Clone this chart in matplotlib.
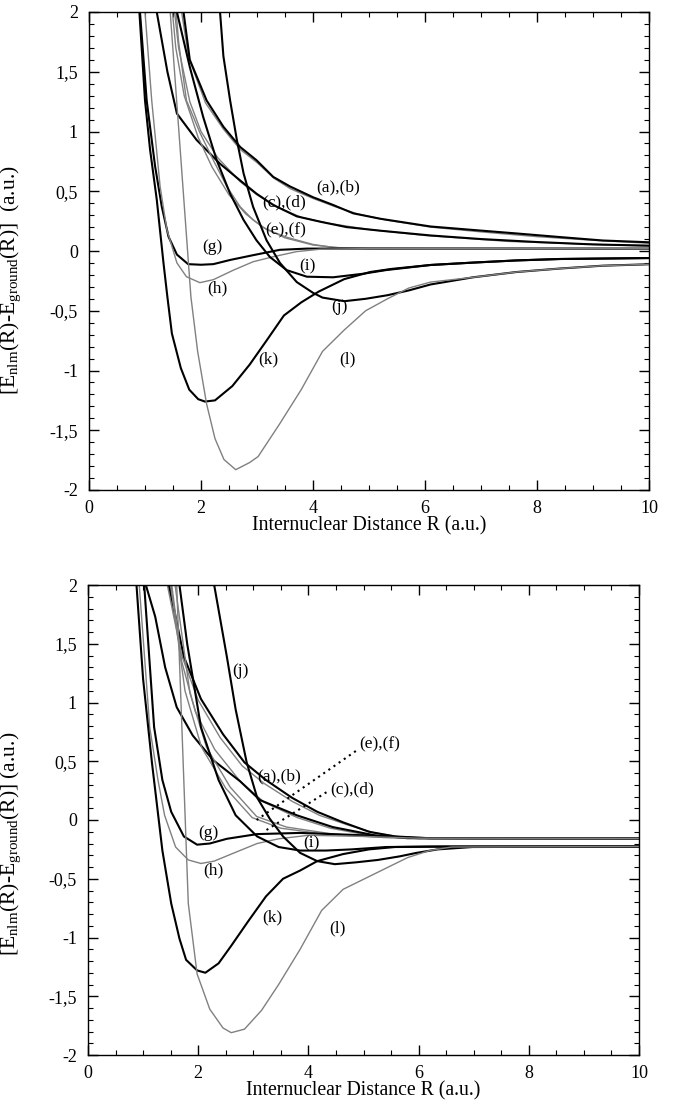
import matplotlib
matplotlib.use('Agg')
import matplotlib.pyplot as plt
from matplotlib.ticker import MultipleLocator, FuncFormatter

plt.rcParams['font.family'] = ['Liberation Serif', 'DejaVu Serif']
plt.rcParams['mathtext.fontset'] = 'custom'
plt.rcParams['mathtext.rm'] = 'Liberation Serif'
plt.rcParams['mathtext.it'] = 'Liberation Serif:italic'

# ---------------- top panel data ----------------
top_a_r = [1.66, 1.80, 2.10, 2.40, 2.70, 2.99, 3.29, 3.59, 4.00, 4.36, 4.72, 5.20, 6.10, 6.86, 7.63, 8.40, 9.17, 10.0]
top_a_e = [2.10, 1.60, 1.26, 1.04, 0.87, 0.76, 0.62, 0.54, 0.45, 0.385, 0.315, 0.27, 0.205, 0.176, 0.147, 0.117, 0.088, 0.073]
top_b_r = [1.62, 1.78, 2.08, 2.40, 2.70, 3.00, 3.30, 3.60, 4.00, 4.40, 4.80, 5.30, 6.10, 7.00, 8.00, 9.00, 10.0]
top_b_e = [2.10, 1.62, 1.24, 1.02, 0.85, 0.74, 0.61, 0.52, 0.44, 0.37, 0.31, 0.26, 0.20, 0.16, 0.12, 0.09, 0.065]
top_c_r = [1.15, 1.21, 1.40, 1.57, 1.92, 2.34, 2.70, 2.99, 3.29, 3.71, 4.13, 4.60, 5.20, 6.10, 7.00, 8.00, 9.00, 10.0]
top_c_e = [2.20, 2.00, 1.50, 1.15, 0.93, 0.73, 0.59, 0.48, 0.385, 0.29, 0.245, 0.20, 0.17, 0.13, 0.10, 0.075, 0.055, 0.045]
top_d_r = [1.48, 1.60, 1.80, 2.00, 2.30, 2.70, 3.00, 3.40, 3.80, 4.30, 5.00, 6.00, 7.50, 10.0]
top_d_e = [2.20, 1.70, 1.25, 1.00, 0.78, 0.58, 0.47, 0.36, 0.28, 0.23, 0.18, 0.13, 0.08, 0.04]
top_e_r = [1.52, 1.60, 1.74, 1.98, 2.22, 2.46, 2.70, 2.93, 3.17, 3.53, 4.00, 4.36, 5.00, 10.0]
top_e_e = [2.20, 1.75, 1.26, 0.99, 0.76, 0.54, 0.37, 0.26, 0.18, 0.115, 0.055, 0.03, 0.02, 0.02]
top_f_r = [1.45, 1.55, 1.70, 1.95, 2.20, 2.50, 2.80, 3.10, 3.50, 4.00, 4.50, 10.0]
top_f_e = [2.20, 1.70, 1.30, 0.95, 0.70, 0.47, 0.31, 0.20, 0.11, 0.05, 0.025, 0.02]
top_g_r = [0.88, 0.91, 1.03, 1.18, 1.30, 1.42, 1.57, 1.77, 2.00, 2.22, 2.52, 2.93, 3.41, 3.89, 4.50, 10.0]
top_g_e = [2.20, 2.00, 1.26, 0.71, 0.37, 0.12, -0.03, -0.11, -0.115, -0.11, -0.075, -0.035, 0.01, 0.02, 0.02, 0.02]
top_h_r = [0.97, 1.00, 1.12, 1.27, 1.39, 1.57, 1.74, 1.98, 2.22, 2.58, 2.93, 3.29, 3.71, 4.13, 5.00, 10.0]
top_h_e = [2.20, 2.00, 1.26, 0.54, 0.18, -0.10, -0.215, -0.265, -0.24, -0.16, -0.09, -0.048, -0.005, 0.015, 0.02, 0.02]
top_i_r = [1.52, 1.57, 1.80, 2.04, 2.28, 2.52, 2.76, 2.99, 3.23, 3.53, 3.89, 4.36, 4.90, 5.30, 6.10, 6.86, 7.63, 8.40, 10.0]
top_i_e = [2.20, 2.00, 1.54, 1.12, 0.76, 0.48, 0.26, 0.09, -0.05, -0.16, -0.215, -0.22, -0.19, -0.16, -0.117, -0.097, -0.079, -0.067, -0.059]
top_j_r = [2.32, 2.34, 2.40, 2.52, 2.64, 2.76, 2.93, 3.17, 3.41, 3.71, 4.00, 4.17, 4.56, 4.94, 5.33, 5.71, 6.10, 6.86, 7.63, 8.40, 9.17, 10.0]
top_j_e = [2.20, 2.00, 1.63, 1.26, 0.93, 0.65, 0.37, 0.09, -0.10, -0.26, -0.35, -0.39, -0.42, -0.40, -0.37, -0.33, -0.28, -0.22, -0.176, -0.147, -0.123, -0.111]
top_k_r = [0.86, 0.90, 1.00, 1.09, 1.21, 1.33, 1.40, 1.48, 1.64, 1.79, 1.95, 2.07, 2.25, 2.56, 2.87, 3.17, 3.48, 3.79, 4.10, 4.56, 5.02, 5.40, 6.10, 6.86, 7.63, 8.40, 10.0]
top_k_e = [2.20, 2.00, 1.26, 0.85, 0.43, -0.10, -0.385, -0.69, -0.98, -1.16, -1.24, -1.26, -1.25, -1.13, -0.95, -0.75, -0.54, -0.43, -0.34, -0.235, -0.176, -0.15, -0.117, -0.097, -0.079, -0.067, -0.059]
top_l_r = [1.44, 1.45, 1.82, 1.94, 2.10, 2.25, 2.41, 2.62, 2.87, 3.02, 3.40, 3.79, 4.17, 4.56, 4.94, 5.33, 5.71, 6.10, 6.86, 7.63, 8.40, 9.17, 10.0]
top_l_e = [2.20, 2.00, -0.385, -0.84, -1.28, -1.57, -1.745, -1.83, -1.77, -1.72, -1.45, -1.16, -0.84, -0.66, -0.50, -0.40, -0.31, -0.26, -0.22, -0.176, -0.147, -0.123, -0.111]

top_labels = ['(a),(b)', '(c),(d)', '(e),(f)', '(g)', '(h)', '(i)', '(j)', '(k)', '(l)']
top_label_r = [4.44, 3.48, 3.52, 2.21, 2.29, 3.90, 4.48, 3.21, 4.62]
top_label_e = [0.53, 0.41, 0.17, 0.03, -0.31, -0.13, -0.47, -0.91, -0.91]

# ---------------- bottom panel data ----------------
bot_a_r = [1.40, 1.47, 1.74, 2.05, 2.45, 2.84, 3.23, 3.70, 4.16, 4.63, 5.10, 5.57, 6.20, 7.00, 10.0]
bot_a_e = [2.20, 2.00, 1.39, 1.03, 0.73, 0.49, 0.34, 0.19, 0.07, -0.02, -0.10, -0.14, -0.155, -0.156, -0.156]
bot_b_r = [1.36, 1.44, 1.70, 2.00, 2.40, 2.80, 3.20, 3.70, 4.20, 4.70, 5.20, 5.70, 6.50, 10.0]
bot_b_e = [2.20, 2.00, 1.40, 1.02, 0.70, 0.46, 0.31, 0.16, 0.04, -0.04, -0.11, -0.145, -0.156, -0.156]
bot_c_r = [0.98, 1.05, 1.22, 1.40, 1.61, 1.90, 2.27, 2.76, 3.12, 3.79, 4.44, 5.20, 5.80, 10.0]
bot_c_e = [2.20, 2.00, 1.73, 1.30, 0.96, 0.72, 0.51, 0.33, 0.17, 0.04, -0.06, -0.13, -0.155, -0.156]
bot_d_r = [1.45, 1.52, 1.70, 1.95, 2.30, 2.76, 3.20, 3.80, 4.40, 5.10, 5.80, 10.0]
bot_d_e = [2.20, 2.00, 1.35, 0.92, 0.60, 0.33, 0.15, 0.02, -0.07, -0.13, -0.155, -0.156]
bot_e_r = [1.52, 1.58, 1.85, 2.15, 2.58, 3.06, 3.60, 4.45, 5.50, 10.0]
bot_e_e = [2.20, 2.00, 1.08, 0.62, 0.28, 0.03, -0.06, -0.12, -0.15, -0.156]
bot_f_r = [1.45, 1.50, 1.76, 2.06, 2.50, 2.98, 3.50, 4.30, 5.40, 10.0]
bot_f_e = [2.20, 2.00, 1.10, 0.62, 0.27, 0.02, -0.07, -0.12, -0.15, -0.156]
bot_g_r = [0.98, 1.02, 1.20, 1.35, 1.51, 1.74, 1.98, 2.21, 2.52, 3.07, 3.85, 5.00, 6.00, 10.0]
bot_g_e = [2.20, 2.00, 0.79, 0.34, 0.07, -0.14, -0.21, -0.20, -0.16, -0.12, -0.11, -0.13, -0.155, -0.156]
bot_h_r = [0.90, 0.93, 1.12, 1.27, 1.39, 1.59, 1.82, 2.05, 2.29, 2.60, 3.07, 3.46, 4.00, 5.00, 6.00, 10.0]
bot_h_e = [2.20, 2.00, 0.79, 0.34, 0.04, -0.23, -0.34, -0.37, -0.35, -0.29, -0.20, -0.16, -0.13, -0.14, -0.155, -0.156]
bot_i_r = [1.62, 1.66, 1.80, 2.05, 2.37, 2.68, 3.07, 3.46, 3.85, 4.32, 4.79, 5.41, 6.20, 10.0]
bot_i_e = [2.20, 2.00, 1.50, 0.79, 0.34, 0.04, -0.14, -0.23, -0.26, -0.26, -0.25, -0.23, -0.226, -0.226]
bot_j_r = [2.27, 2.29, 2.52, 2.68, 2.88, 3.07, 3.30, 3.54, 3.85, 4.16, 4.48, 4.87, 5.26, 5.65, 5.96, 6.35, 6.98, 10.0]
bot_j_e = [2.20, 2.00, 1.39, 0.94, 0.49, 0.19, 0.01, -0.14, -0.28, -0.35, -0.376, -0.36, -0.34, -0.31, -0.28, -0.25, -0.23, -0.226]
bot_k_r = [0.86, 0.88, 1.00, 1.16, 1.35, 1.51, 1.66, 1.78, 1.98, 2.13, 2.37, 2.60, 2.91, 3.23, 3.54, 3.85, 4.16, 4.63, 5.10, 5.57, 6.50, 10.0]
bot_k_e = [2.20, 2.00, 1.20, 0.49, -0.26, -0.71, -1.01, -1.19, -1.28, -1.30, -1.22, -1.07, -0.86, -0.65, -0.50, -0.43, -0.35, -0.29, -0.25, -0.23, -0.226, -0.226]
bot_l_r = [1.59, 1.61, 1.82, 1.98, 2.21, 2.45, 2.60, 2.84, 3.15, 3.46, 3.85, 4.24, 4.63, 5.02, 5.41, 5.80, 6.20, 6.60, 10.0]
bot_l_e = [2.20, 2.00, -0.71, -1.31, -1.61, -1.77, -1.81, -1.78, -1.62, -1.40, -1.10, -0.77, -0.59, -0.50, -0.41, -0.32, -0.26, -0.23, -0.226]

# dotted leader lines of the bottom panel
bot_lead_ef_r = [3.06, 4.90]
bot_lead_ef_e = [0.00, 0.60]
bot_lead_cd_r = [3.24, 4.39]
bot_lead_cd_e = [-0.085, 0.255]

bot_labels = ['(j)', '(a),(b)', '(c),(d)', '(e),(f)', '(g)', '(i)', '(h)', '(k)', '(l)']
bot_label_r = [2.76, 3.46, 4.79, 5.30, 2.19, 4.06, 2.27, 3.34, 4.52]
bot_label_e = [1.27, 0.37, 0.26, 0.64, -0.11, -0.20, -0.43, -0.83, -0.92]

THICK = dict(color='black', lw=1.5)
THIN = dict(color='#808080', lw=1.0)


def comma_fmt(v, pos):
    s = ('%g' % v).replace('.', ',')
    return s


def style_axes(ax):
    ax.set_xlim(0, 10)
    ax.set_ylim(-2, 2)
    ax.xaxis.set_major_locator(MultipleLocator(2))
    ax.xaxis.set_minor_locator(MultipleLocator(0.5))
    ax.yaxis.set_major_locator(MultipleLocator(0.5))
    ax.yaxis.set_minor_locator(MultipleLocator(0.1))
    ax.yaxis.set_major_formatter(FuncFormatter(comma_fmt))
    ax.tick_params(which='both', direction='in', top=True, right=True, labelsize=13)
    ax.tick_params(which='major', length=7, width=1)
    ax.tick_params(which='minor', length=3.5, width=0.8)
    ax.tick_params(axis='x', pad=7)
    ax.tick_params(axis='y', pad=8)
    for sp in ax.spines.values():
        sp.set_linewidth(1.0)
    ax.set_xlabel('Internuclear Distance R (a.u.)', fontsize=14.2, labelpad=0)


def draw_panel(ax, curves, labels, lab_r, lab_e):
    for r, e, st in curves:
        ax.plot(r, e, **st)
    for t, x, y in zip(labels, lab_r, lab_e):
        ax.text(x, y, t, ha='center', va='center', fontsize=12.5)


fig = plt.figure(figsize=(6.74, 11.04), dpi=100)
ax1 = fig.add_axes([89 / 674, 1 - 490 / 1104, 560 / 674, 478 / 1104])
ax2 = fig.add_axes([88 / 674, 1 - 1055 / 1104, 551 / 674, 470 / 1104])

top_curves = [
    (top_b_r, top_b_e, THIN), (top_a_r, top_a_e, THICK),
    (top_d_r, top_d_e, THIN), (top_c_r, top_c_e, THICK),
    (top_e_r, top_e_e, THIN), (top_f_r, top_f_e, THIN),
    (top_g_r, top_g_e, THICK), (top_h_r, top_h_e, THIN),
    (top_i_r, top_i_e, THICK), (top_j_r, top_j_e, THICK),
    (top_k_r, top_k_e, THICK), (top_l_r, top_l_e, THIN),
]
draw_panel(ax1, top_curves, top_labels, top_label_r, top_label_e)

bot_curves = [
    (bot_b_r, bot_b_e, THIN), (bot_a_r, bot_a_e, THICK),
    (bot_d_r, bot_d_e, THIN), (bot_c_r, bot_c_e, THICK),
    (bot_e_r, bot_e_e, THIN), (bot_f_r, bot_f_e, THIN),
    (bot_g_r, bot_g_e, THICK), (bot_h_r, bot_h_e, THIN),
    (bot_i_r, bot_i_e, THICK), (bot_j_r, bot_j_e, THICK),
    (bot_k_r, bot_k_e, THICK), (bot_l_r, bot_l_e, THIN),
]
draw_panel(ax2, bot_curves, bot_labels, bot_label_r, bot_label_e)
ax2.plot(bot_lead_ef_r, bot_lead_ef_e, color='black', lw=1.5, ls=(0, (1, 2)))
ax2.plot(bot_lead_cd_r, bot_lead_cd_e, color='black', lw=1.5, ls=(0, (1, 2)))

for ax in (ax1, ax2):
    style_axes(ax)

ax1.set_ylabel(r'[E$_{\rm nlm}$(R)-E$_{\rm ground}$(R)]  (a.u.)', fontsize=15.5)
ax1.yaxis.set_label_coords(-0.118, 0.44)
ax2.set_ylabel(r'[E$_{\rm nlm}$(R)-E$_{\rm ground}$(R)] (a.u.)', fontsize=15.5)
ax2.yaxis.set_label_coords(-0.118, 0.45)

fig.savefig('out.png', dpi=100)
